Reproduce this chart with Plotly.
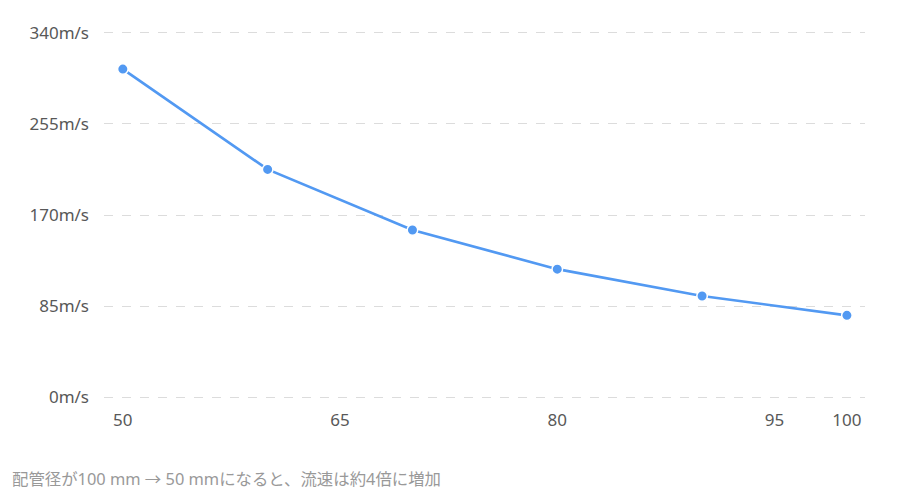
import plotly.graph_objects as go

diameters = [50, 60, 70, 80, 90, 100]
velocities = [306, 212.5, 156, 119.5, 94.5, 76.5]
x_ticks = [50, 65, 80, 95, 100]
y_ticks = [0, 85, 170, 255, 340]
y_labels = [f"{v}m/s" for v in y_ticks]
note = "配管径が100 mm → 50 mmになると、流速は約4倍に増加"

font_family = "Noto Sans, Noto Sans CJK JP, sans-serif"

# page body has an 8px margin; compensate so the plot lands where the reference has it
OFF = 8
W, H = 904 - OFF, 502 - OFF
L, R, T, B = 104 - OFF, 39, 31 - OFF, 103
plot_h = H - T - B
plot_w = W - L - R

fig = go.Figure()
fig.add_trace(go.Scatter(
    x=diameters, y=velocities, mode="lines+markers",
    line=dict(color="#5299f2", width=2.7),
    marker=dict(size=10.5, color="#5299f2", line=dict(color="white", width=1.5)),
    cliponaxis=False, showlegend=False,
))

fig.update_layout(
    width=W, height=H,
    margin=dict(l=L, r=R, t=T, b=B),
    paper_bgcolor="#ffffff", plot_bgcolor="#ffffff",
    font=dict(family=font_family, size=17, color="#585858"),
    xaxis=dict(range=[48.7, 101.25], tickvals=x_ticks, ticktext=[str(v) for v in x_ticks],
               showgrid=False, zeroline=False, showline=False, ticks="",
               ticklabelstandoff=9,
               tickfont=dict(size=17, color="#585858")),
    yaxis=dict(range=[-1.5, 341.5], tickvals=y_ticks, ticktext=y_labels,
               showgrid=True, gridcolor="#dcdcdc", griddash="dash", gridwidth=1,
               zeroline=False, showline=False, ticks="", ticklabelstandoff=14,
               tickfont=dict(size=17, color="#585858")),
    annotations=[dict(text=note, xref="paper", yref="paper", x=-(L - 2) / plot_w,
                      y=-(478 - 399) / plot_h,
                      xanchor="left", yanchor="middle", showarrow=False,
                      font=dict(size=16.4, color="#999999", family=font_family))],
)

fig.write_html("out.html")
